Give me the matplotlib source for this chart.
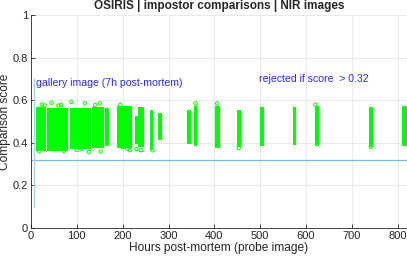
import matplotlib
matplotlib.use("Agg")
import matplotlib.pyplot as plt

# Clusters of impostor scores: hour range (start, end) and score range (low, high)
cluster_start = [12, 36, 85, 133, 162, 187, 227, 234, 260, 278, 340, 355, 402, 450, 500, 571, 619, 738, 810]
cluster_end = [31, 79, 128, 157, 168, 219, 234, 245, 265, 283, 346, 361, 411, 456, 506, 576, 625, 744, 817]
score_low = [0.365, 0.368, 0.375, 0.38, 0.39, 0.378, 0.40, 0.385, 0.37, 0.42, 0.398, 0.39, 0.38, 0.385, 0.39, 0.395, 0.39, 0.385, 0.39]
score_high = [0.57, 0.565, 0.565, 0.57, 0.565, 0.575, 0.527, 0.57, 0.555, 0.54, 0.554, 0.575, 0.575, 0.555, 0.568, 0.57, 0.575, 0.57, 0.575]

# a few isolated points sticking out of the clusters
outlier_hours = [24, 45, 60, 72, 88, 100, 118, 126, 150, 152, 195, 210, 216, 240, 265, 359, 406, 453, 741,
                 18, 30, 52, 66, 110, 140, 200, 230, 620]
outlier_scores = [0.58, 0.588, 0.575, 0.362, 0.592, 0.366, 0.585, 0.356, 0.585, 0.358, 0.578, 0.372, 0.365, 0.365, 0.365, 0.585, 0.585, 0.375, 0.38,
                  0.36, 0.575, 0.37, 0.578, 0.372, 0.578, 0.38, 0.37, 0.58]

threshold = 0.32
gallery_hour = 7
gallery_span = [0.1, 0.70]

plt.rcParams["font.family"] = ["Liberation Sans", "DejaVu Sans"]

fig = plt.figure(figsize=(4.07, 2.59), dpi=100)
ax = fig.add_axes([0.076, 0.12, 0.924, 0.822])

green = "#00ff00"
for s, e, lo, hi in zip(cluster_start, cluster_end, score_low, score_high):
    ax.bar(s, hi - lo, width=max(e - s, 3), bottom=lo, align="edge",
           color=green, edgecolor=green, linewidth=0.8, zorder=3)
ax.scatter(outlier_hours, outlier_scores, s=6, facecolors="none",
           edgecolors=green, linewidths=0.7, zorder=3)

ax.axhline(threshold, color="#80bde6", linewidth=0.9, zorder=2)
ax.plot([gallery_hour, gallery_hour], gallery_span, color="#aad6ee", linewidth=1.0, zorder=2)

ax.text(10, 0.68, "gallery image (7h post-mortem)", color="#2b2bff", fontsize=7.6, va="center")
ax.text(498, 0.70, "rejected if score  > 0.32", color="#2b2bff", fontsize=7.6, va="center")

ax.set_xlim(0, 820)
ax.set_ylim(0, 1)
ax.set_xticks(range(0, 801, 100))
ax.set_yticks([0, 0.2, 0.4, 0.6, 0.8, 1])
ax.set_yticklabels(["0", "0.2", "0.4", "0.6", "0.8", "1"])
ax.grid(True, color="#e6e6e6", linewidth=0.6, zorder=0)
ax.set_axisbelow(True)

for side in ["top", "right"]:
    ax.spines[side].set_visible(False)
for side in ["left", "bottom"]:
    ax.spines[side].set_color("#262626")
    ax.spines[side].set_linewidth(0.6)
ax.tick_params(direction="in", length=3, width=0.6, labelsize=8, colors="#262626", pad=2)

ax.set_xlabel("Hours post-mortem (probe image)", fontsize=8.6, color="#262626", labelpad=1)
ax.set_ylabel("Comparison score", fontsize=8.6, color="#262626", labelpad=1)
ax.set_title("OSIRIS | impostor comparisons | NIR images", fontsize=8.5,
             fontweight="bold", color="#262626", pad=4)

fig.savefig("out.png", dpi=100)
